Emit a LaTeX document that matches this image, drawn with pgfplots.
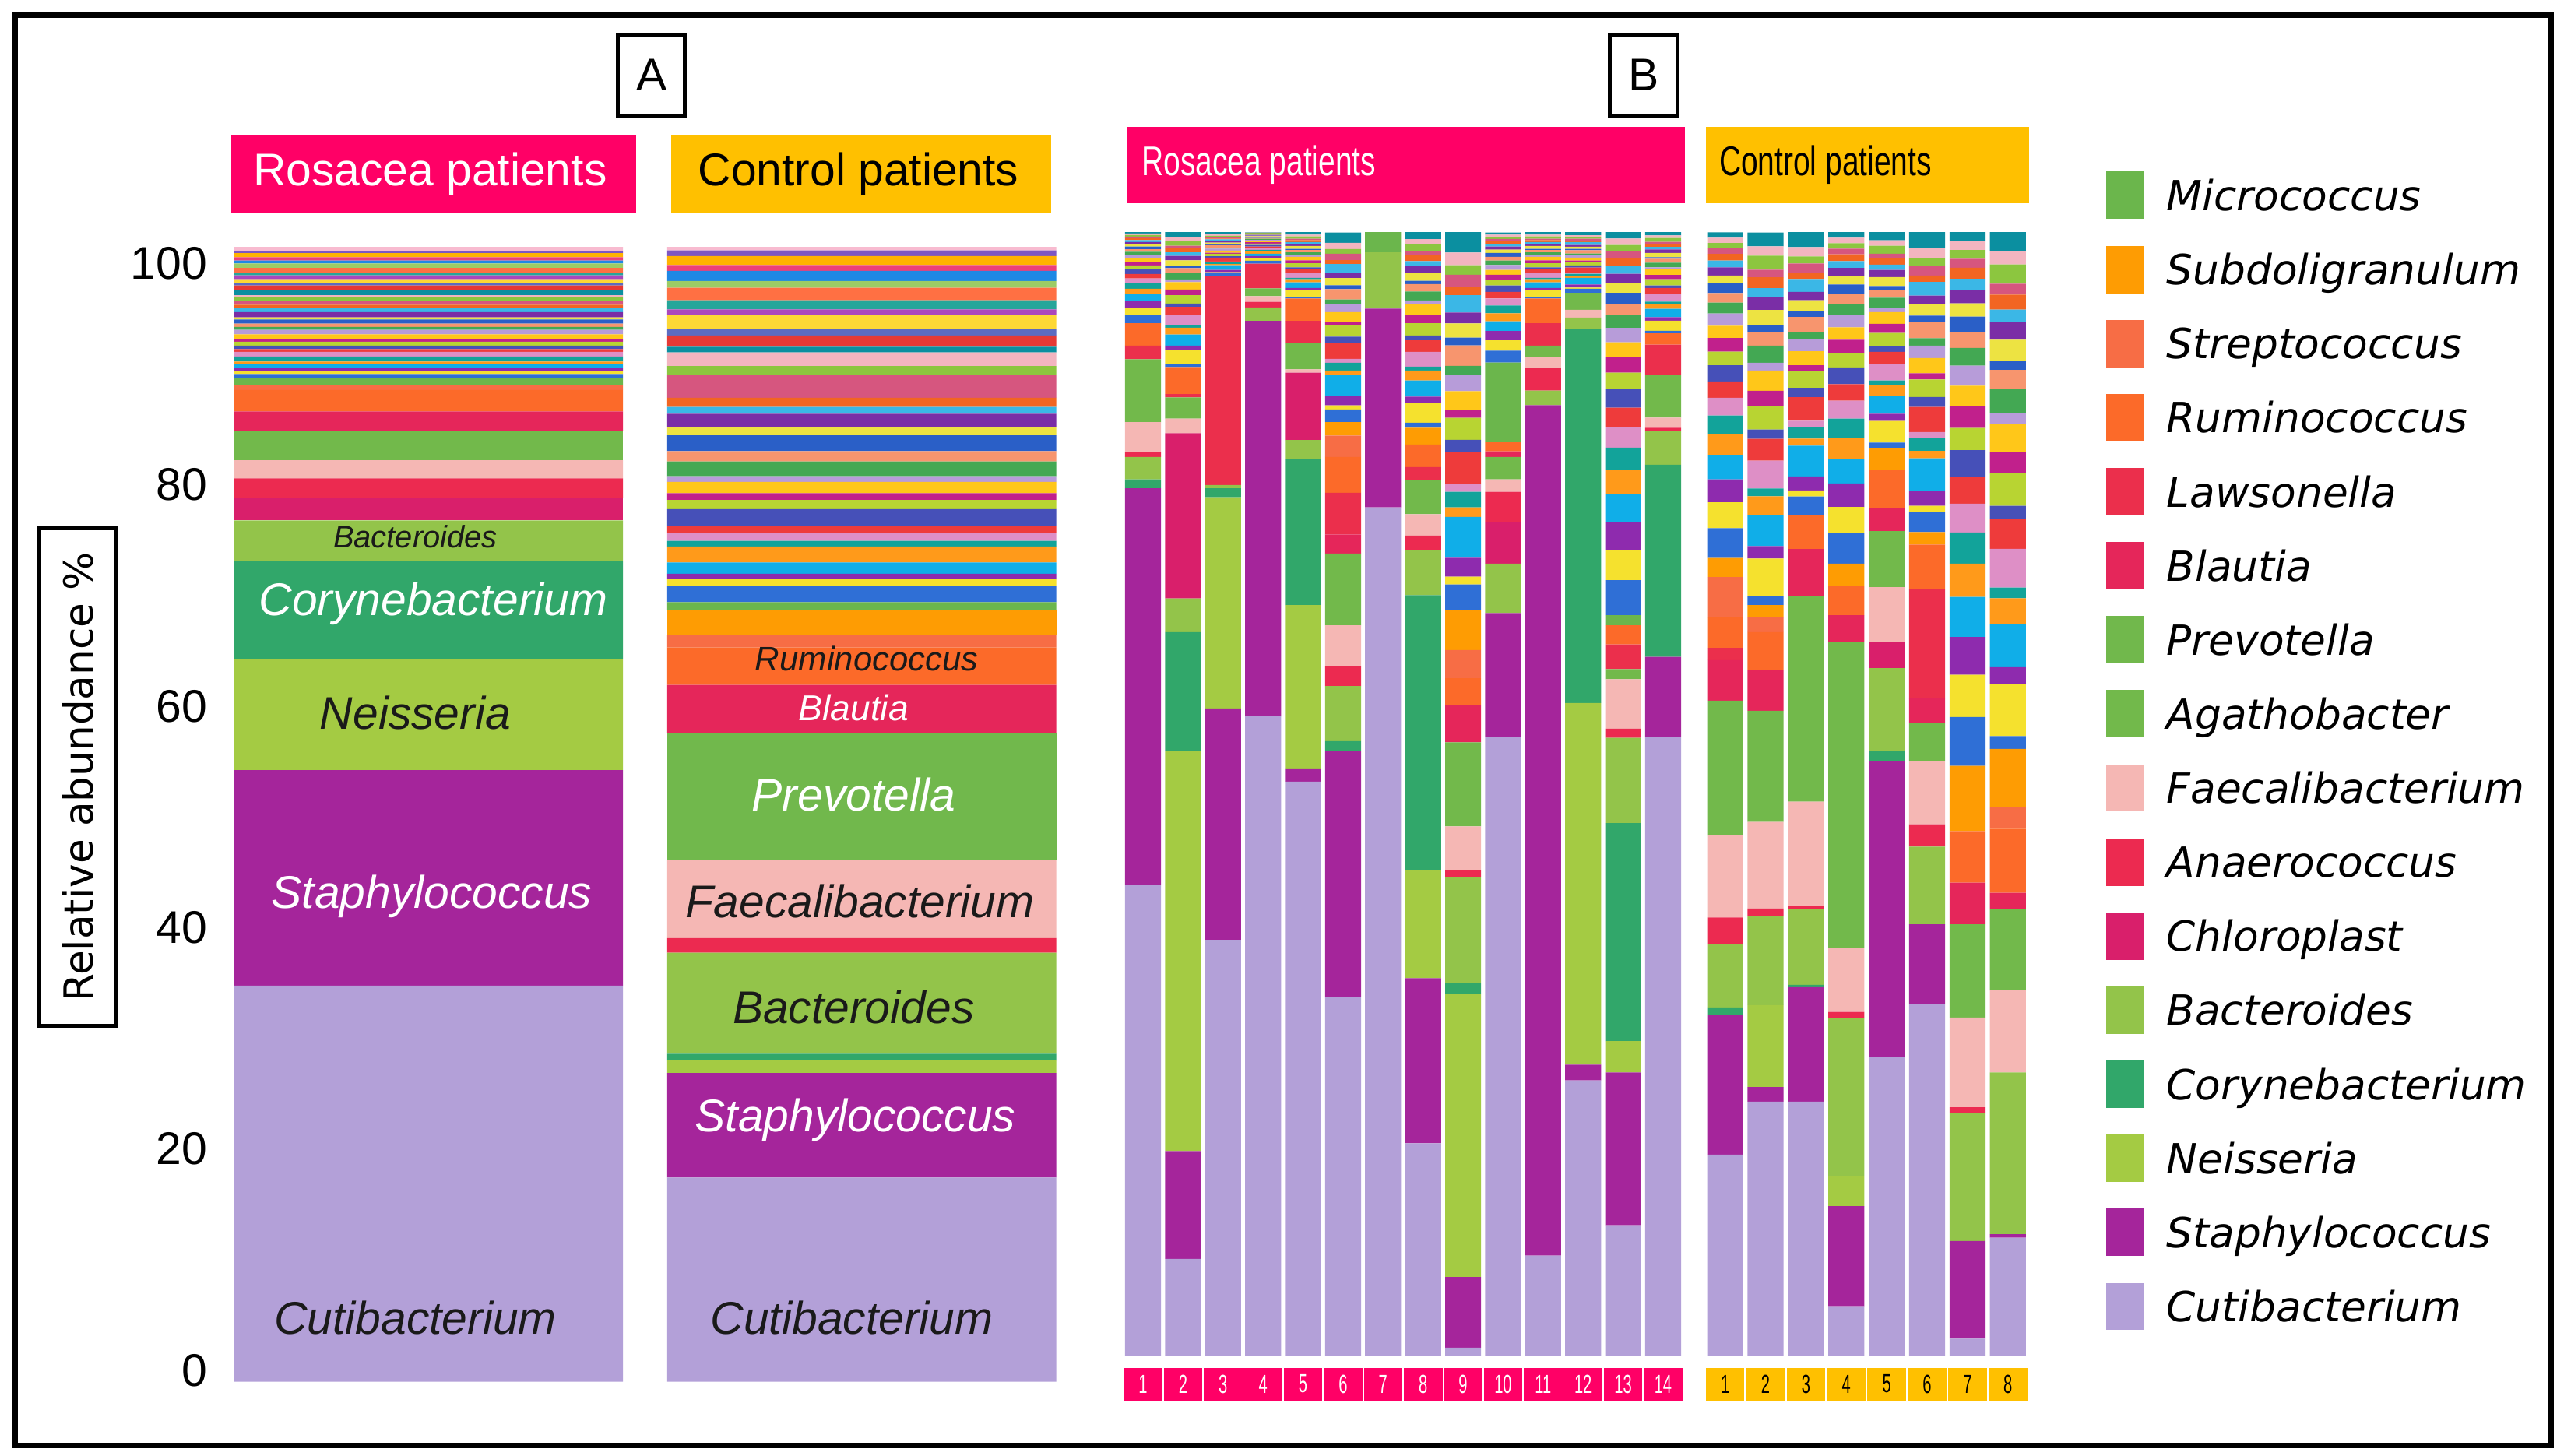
\documentclass[border=0pt]{standalone}
\usepackage{fontspec}
\setmainfont{Liberation Sans}
\newfontfamily\dejavu{DejaVu Sans}
\newfontfamily\narrowfont[FakeStretch=0.73]{Liberation Sans}
\newfontfamily\digitfont[FakeStretch=0.6]{Liberation Sans}
\usepackage{pgfplots}
\usepackage{pgfplotstable}
\pgfplotsset{compat=1.18}

% taxa colours
\definecolor{cCutibacterium}{HTML}{B3A0D8}
\definecolor{cStaphylococcus}{HTML}{A5259B}
\definecolor{cNeisseria}{HTML}{A4CB43}
\definecolor{cCorynebacterium}{HTML}{31A76A}
\definecolor{cBacteroides}{HTML}{93C44A}
\definecolor{cChloroplast}{HTML}{D91F6B}
\definecolor{cAnaerococcus}{HTML}{EC2A50}
\definecolor{cFaecalibacterium}{HTML}{F5B7B4}
\definecolor{cAgathobacter}{HTML}{72B94B}
\definecolor{cPrevotella}{HTML}{71B84C}
\definecolor{cBlautia}{HTML}{E5265A}
\definecolor{cLawsonella}{HTML}{EB2F4C}
\definecolor{cRuminococcus}{HTML}{FC6A29}
\definecolor{cStreptococcus}{HTML}{F76D45}
\definecolor{cSubdoligranulum}{HTML}{FE9C03}
\definecolor{cMicrococcus}{HTML}{6BB64C}
\definecolor{hpink}{HTML}{FF0066}
\definecolor{hyellow}{HTML}{FFC000}
\definecolor{dk}{HTML}{1A1A1A}
% colours of the minor taxa
\definecolor{st1}{HTML}{2F6FD6}
\definecolor{st2}{HTML}{F5E12E}
\definecolor{st3}{HTML}{8E2BAE}
\definecolor{st4}{HTML}{10AEE8}
\definecolor{st5}{HTML}{FF9A1A}
\definecolor{st6}{HTML}{12A39A}
\definecolor{st7}{HTML}{DE8FC6}
\definecolor{st8}{HTML}{EE3B3B}
\definecolor{st9}{HTML}{4650B8}
\definecolor{st10}{HTML}{B8D432}
\definecolor{st11}{HTML}{C1208C}
\definecolor{st12}{HTML}{FFC719}
\definecolor{st13}{HTML}{B79CD9}
\definecolor{st14}{HTML}{43A853}
\definecolor{st15}{HTML}{F7956E}
\definecolor{st16}{HTML}{2A5FC7}
\definecolor{st17}{HTML}{EDE342}
\definecolor{st18}{HTML}{7A2EA6}
\definecolor{st19}{HTML}{3BB7E6}
\definecolor{st20}{HTML}{F26522}
\definecolor{st21}{HTML}{D6567F}
\definecolor{st22}{HTML}{8CC63F}
\definecolor{st23}{HTML}{F3B5C0}
\definecolor{st24}{HTML}{0B8FA0}
\definecolor{st25}{HTML}{E53935}
\definecolor{st26}{HTML}{5C6BC0}
\definecolor{st27}{HTML}{FDD835}
\definecolor{st28}{HTML}{AB47BC}
\definecolor{st29}{HTML}{26A69A}
\definecolor{st30}{HTML}{FF7043}
\definecolor{st31}{HTML}{9CCC65}
\definecolor{st32}{HTML}{1E88E5}
\definecolor{st33}{HTML}{EC407A}
\definecolor{st34}{HTML}{FFB300}
\definecolor{st35}{HTML}{7E57C2}
\definecolor{st36}{HTML}{F8BBD0}

% panel A: pooled groups (x=0 rosacea, x=1 control)
\pgfplotstableread{
x Cutibacterium Staphylococcus Neisseria Corynebacterium Bacteroides Chloroplast Anaerococcus Faecalibacterium Agathobacter Prevotella Blautia Lawsonella Ruminococcus Streptococcus Subdoligranulum Micrococcus
0 34.9 19.0 9.8 8.6 3.6 2.0 1.7 1.6 2.6 0 1.7 0 1.9 0.4 0 0.6
1 18.0 9.2 1.1 0.6 8.9 0 1.3 6.9 0 11.2 4.2 0 3.3 1.1 2.2 0.7
}\tA
\pgfplotstableread{
x s1 s2 s3 s4 s5 s6 s7 s8 s9 s10 s11 s12 s13 s14 s15 s16 s17 s18 s19 s20 s21 s22 s23 s24 s25 s26 s27 s28 s29 s30 s31 s32 s33 s34 s35 s36
0 0.40 0.25 0.30 0.35 0.20 0.45 0.40 0.25 0.30 0.35 0.20 0.45 0.40 0.25 0.30 0.35 0.20 0.45 0.40 0.25 0.30 0.35 0.20 0.45 0.40 0.25 0.30 0.35 0.20 0.45 0.40 0.25 0.30 0.35 0.20 0.35
1 1.4 0.6 0.5 1.0 1.4 0.5 0.7 0.6 1.5 0.8 0.6 1.0 0.5 1.3 0.9 1.4 0.7 1.2 0.6 0.8 2.0 0.8 1.2 0.5 1.0 0.6 1.2 0.5 0.8 1.1 0.6 0.9 0.5 0.8 0.5 0.3
}\sA

% panel B: rosacea patients 1-14
\pgfplotstableread{
x Cutibacterium Staphylococcus Neisseria Corynebacterium Bacteroides Chloroplast Anaerococcus Faecalibacterium Agathobacter Prevotella Blautia Lawsonella Ruminococcus Streptococcus Subdoligranulum Micrococcus
1 41.9 35.3 0 0.8 2.0 0 0.4 2.7 5.6 0 0 1.2 2.0 0 0 0
2 8.6 9.6 35.6 10.6 3.0 14.7 0 1.3 1.9 0 0 0.3 2.4 0 0 0
3 37.0 20.6 18.8 0.8 0.3 0 0 0 0 0 0 18.6 0 0 0 0
4 56.9 35.2 0 0 1.2 0 0.5 0.5 0.7 0 0 2.2 0 0 0 0
5 51.1 1.1 14.6 13.0 1.7 6.0 0 0.3 2.3 0 0 2.0 2.0 0 0 0
6 31.9 21.9 0 0.9 4.9 0 1.8 3.6 6.4 0 1.7 3.7 3.2 1.9 1.2 0
7 75.5 17.7 0 0 5.0 0 0 0 0 0 0 0 0 0 0 1.8
8 18.9 14.7 9.6 24.5 4.0 0 1.3 1.9 3.0 0 0 1.2 2.0 0 1.5 0
9 0.7 6.3 25.2 1.0 9.4 0 0.6 3.9 7.5 0 3.3 0 2.4 2.5 3.6 0
10 55.1 11.0 0 0 4.4 3.7 2.7 1.1 2.0 0 0.5 0 0.8 0 0 7.1
11 8.9 75.7 0 0 1.3 0 2.0 1.0 1.0 0 0 2.0 2.2 0 0 0
12 24.5 1.4 32.2 33.3 1.0 0 0 0.7 1.5 0 0 0 0 0 0 0
13 11.6 13.6 2.8 19.4 7.6 0 0.8 4.4 0.9 0 0 2.2 1.7 0 0 0.9
14 55.1 7.1 0 17.1 3.0 0 0.3 0.9 3.8 0 0 2.7 1.0 0 0 0
}\tBr
\pgfplotstableread{
x s1 s2 s3 s4 s5 s6 s7 s8 s9 s10 s11 s12 s13 s14 s15 s16 s17 s18 s19 s20 s21 s22 s23 s24
1 0.74 0.64 0.57 0.61 0.51 0.47 0.44 0.41 0.41 0.34 0.34 0.30 0.30 0.27 0.24 0.24 0.20 0.20 0.17 0.17 0.14 0.14 0.14 0.14
2 0.30 1.20 0.40 1.00 0.60 0.25 0.90 0.70 0.30 0.75 0.50 0.65 0.25 0.55 0.45 0.20 0.50 0.40 0.30 0.35 0.25 0.45 0.30 0.45
3 0.26 0.08 0.20 0.42 0.10 0.16 0.08 0.33 0.13 0.23 0.08 0.20 0.16 0.10 0.21 0.08 0.15 0.11 0.18 0.08 0.13 0.10 0.13 0.21
4 0.26 0.22 0.20 0.21 0.18 0.16 0.15 0.14 0.14 0.12 0.12 0.11 0.11 0.09 0.08 0.08 0.07 0.07 0.06 0.06 0.05 0.05 0.05 0.05
5 0.15 0.59 0.20 0.49 0.29 0.12 0.44 0.34 0.15 0.37 0.25 0.32 0.12 0.27 0.22 0.10 0.25 0.20 0.15 0.17 0.12 0.22 0.15 0.22
6 1.13 0.35 0.85 1.83 0.42 0.70 0.35 1.41 0.56 0.99 0.35 0.85 0.70 0.42 0.92 0.35 0.63 0.49 0.77 0.35 0.56 0.42 0.56 0.92
7 0 0 0 0 0 0 0 0 0 0 0 0 0 0 0 0 0 0 0 0 0 0 0 0
8 0.44 1.74 0.58 1.45 0.87 0.36 1.31 1.02 0.44 1.09 0.73 0.94 0.36 0.80 0.65 0.29 0.73 0.58 0.44 0.51 0.36 0.65 0.44 0.65
9 2.24 0.70 1.68 3.64 0.84 1.40 0.70 2.80 1.12 1.96 0.70 1.68 1.40 0.84 1.82 0.70 1.26 0.98 1.54 0.70 1.12 0.84 1.12 1.82
10 1.06 0.92 0.82 0.87 0.72 0.68 0.63 0.58 0.58 0.48 0.48 0.43 0.43 0.39 0.34 0.34 0.29 0.29 0.24 0.24 0.19 0.19 0.19 0.19
11 0.15 0.59 0.20 0.49 0.29 0.12 0.44 0.34 0.15 0.37 0.25 0.32 0.12 0.27 0.22 0.10 0.25 0.20 0.15 0.17 0.12 0.22 0.15 0.22
12 0.36 0.11 0.27 0.59 0.14 0.23 0.11 0.45 0.18 0.32 0.11 0.27 0.23 0.14 0.29 0.11 0.20 0.16 0.25 0.11 0.18 0.14 0.18 0.29
13 3.13 2.70 2.42 2.56 2.13 1.99 1.85 1.70 1.70 1.42 1.42 1.28 1.28 1.14 0.99 0.99 0.85 0.85 0.71 0.71 0.57 0.57 0.57 0.57
14 0.23 0.90 0.30 0.75 0.45 0.19 0.68 0.53 0.23 0.56 0.38 0.49 0.19 0.41 0.34 0.15 0.38 0.30 0.23 0.26 0.19 0.34 0.23 0.34
}\sBr

% panel B: control patients 1-8
\pgfplotstableread{
x Cutibacterium Staphylococcus Neisseria Corynebacterium Bacteroides Chloroplast Anaerococcus Faecalibacterium Agathobacter Prevotella Blautia Lawsonella Ruminococcus Streptococcus Subdoligranulum Micrococcus
1 17.9 12.4 0 0.7 5.6 0 2.4 7.3 12.0 0 3.6 1.1 2.7 3.6 1.7 0
2 22.6 1.3 7.3 0 7.9 0 0.7 7.7 9.9 0 3.6 0 3.4 1.3 1.1 0
3 22.6 10.2 0 0.2 6.7 0 0.3 9.3 18.3 0 4.2 0 3.0 0 0 0
4 4.4 8.9 2.7 0 14.0 0 0.6 5.7 27.2 0 2.4 0 2.6 0 2.0 0
5 26.6 26.3 0 0.9 7.4 2.3 0 4.9 5.0 0 2.0 0 3.4 0 2.0 0
6 31.3 7.1 0 0 6.9 0 2.0 5.6 3.4 0 2.2 9.7 4.0 0 1.1 0
7 1.5 8.7 0 0 11.4 0 0.5 8.0 8.3 0 3.7 0 4.6 0 5.8 0
8 10.5 0.3 0 0 14.4 0 0 7.3 7.2 0 1.5 0 5.7 1.9 5.2 0
}\tBc
\pgfplotstableread{
x s1 s2 s3 s4 s5 s6 s7 s8 s9 s10 s11 s12 s13 s14 s15 s16 s17 s18 s19 s20 s21 s22 s23 s24
1 2.66 2.30 2.05 2.18 1.81 1.69 1.57 1.45 1.45 1.21 1.21 1.09 1.09 0.97 0.85 0.85 0.72 0.72 0.60 0.60 0.48 0.48 0.48 0.48
2 0.83 3.32 1.11 2.77 1.66 0.69 2.49 1.94 0.83 2.07 1.38 1.80 0.69 1.52 1.24 0.55 1.38 1.11 0.83 0.97 0.69 1.24 0.83 1.24
3 1.68 0.53 1.26 2.73 0.63 1.05 0.53 2.10 0.84 1.47 0.53 1.26 1.05 0.63 1.37 0.53 0.95 0.74 1.16 0.53 0.84 0.63 0.84 1.37
4 2.70 2.34 2.09 2.21 1.84 1.72 1.60 1.48 1.48 1.23 1.23 1.11 1.11 0.98 0.86 0.86 0.74 0.74 0.61 0.61 0.49 0.49 0.49 0.49
5 0.48 1.92 0.64 1.60 0.96 0.40 1.44 1.12 0.48 1.20 0.80 1.04 0.40 0.88 0.72 0.32 0.80 0.64 0.48 0.56 0.40 0.72 0.48 0.72
6 1.78 0.56 1.34 2.89 0.67 1.11 0.56 2.23 0.89 1.56 0.56 1.34 1.11 0.67 1.45 0.56 1.00 0.78 1.22 0.56 0.89 0.67 0.89 1.45
7 4.35 3.76 3.36 3.56 2.97 2.77 2.57 2.38 2.38 1.98 1.98 1.78 1.78 1.58 1.39 1.39 1.19 1.19 0.99 0.99 0.79 0.79 0.79 0.79
8 1.15 4.60 1.53 3.83 2.30 0.96 3.45 2.68 1.15 2.88 1.92 2.49 0.96 2.11 1.73 0.77 1.92 1.53 1.15 1.34 0.96 1.73 1.15 1.73
}\sBc

\pgfplotsset{
  stk/.style={
    ybar stacked, scale only axis, ymin=0, ymax=100,
    axis lines*=left, axis line style={draw=none},
    tick style={draw=none}, major tick length=0pt,
    enlargelimits=false,
    /pgf/number format/assume math mode=true,
  },
  rectleg/.style={legend image code/.code={\fill[##1] (0pt,-7.25pt) rectangle (11.5pt,7.25pt);}},
}
\tikzset{lab/.style={inner sep=0pt, font=\itshape\fontsize{14}{16}\selectfont}}

\begin{document}
\begin{tikzpicture}

% ---------- panel A ----------
\begin{axis}[stk, at={(71.375pt,-422.5pt)}, anchor=south west,
  width=251.75pt, height=347pt, xmin=-0.45, xmax=1.45, bar width=119pt,
  xtick=\empty,
  % the figure prints its tick numbers slightly inside the bar span
  ytick={1.01,20.52,40.03,59.54,79.05,98.56}, yticklabels={0,20,40,60,80,100},
  yticklabel style={font=\fontsize{14}{16}\selectfont, inner sep=0pt, xshift=-7.9pt}]
\pgfplotsinvokeforeach{Cutibacterium,Staphylococcus,Neisseria,Corynebacterium,Bacteroides,Chloroplast,Anaerococcus,Faecalibacterium,Agathobacter,Prevotella,Blautia,Lawsonella,Ruminococcus,Streptococcus,Subdoligranulum,Micrococcus}{
  \addplot[fill=c#1, draw=none] table[x=x, y=#1]{\tA};
}
\pgfplotsinvokeforeach{1,...,36}{
  \addplot[fill=st#1, draw=none, forget plot] table[x=x, y=s#1]{\sA};
}
\end{axis}

% ---------- panel B, rosacea ----------
\begin{axis}[stk, at={(343.4pt,-414.5pt)}, anchor=south west,
  width=171.25pt, height=343.5pt, xmin=0.5, xmax=14.5, bar width=11pt,
  ytick=\empty, xtick={1,...,14},
  xticklabel style={fill=hpink, text=white, font=\digitfont\fontsize{8}{9}\selectfont,
    minimum width=11.8pt, minimum height=10pt, inner sep=0pt, anchor=north, yshift=-3.5pt}]
\pgfplotsinvokeforeach{Cutibacterium,Staphylococcus,Neisseria,Corynebacterium,Bacteroides,Chloroplast,Anaerococcus,Faecalibacterium,Agathobacter,Prevotella,Blautia,Lawsonella,Ruminococcus,Streptococcus,Subdoligranulum,Micrococcus}{
  \addplot[fill=c#1, draw=none] table[x=x, y=#1]{\tBr};
}
\pgfplotsinvokeforeach{1,...,24}{
  \addplot[fill=st#1, draw=none, forget plot] table[x=x, y=s#1]{\sBr};
}
\end{axis}

% ---------- panel B, control ----------
\begin{axis}[stk, at={(521.325pt,-414.5pt)}, anchor=south west,
  width=98.8pt, height=343.5pt, xmin=0.5, xmax=8.5, bar width=11pt,
  ytick=\empty, xtick={1,...,8},
  xticklabel style={fill=hyellow, text=black, font=\digitfont\fontsize{8}{9}\selectfont,
    minimum width=11.8pt, minimum height=10pt, inner sep=0pt, anchor=north, yshift=-3.5pt},
  reverse legend, legend cell align=left,
  legend style={at={(1.2416,1.0539)}, anchor=north west, draw=none, fill=none,
    inner sep=0pt, outer sep=0pt, row sep=8.15pt,
    font={\dejavu\itshape\fontsize{12.7}{14}\selectfont},
    nodes={inner sep=0pt, text height=9.3pt, text depth=0pt},
    /tikz/every odd column/.append style={column sep=7pt}}]
\pgfplotsinvokeforeach{Cutibacterium,Staphylococcus,Neisseria,Corynebacterium,Bacteroides,Chloroplast,Anaerococcus,Faecalibacterium,Agathobacter,Prevotella,Blautia,Lawsonella,Ruminococcus,Streptococcus,Subdoligranulum,Micrococcus}{
  \addplot[fill=c#1, draw=none, rectleg] table[x=x, y=#1]{\tBc};
  \addlegendentry{#1}
}
\pgfplotsinvokeforeach{1,...,24}{
  \addplot[fill=st#1, draw=none, forget plot] table[x=x, y=s#1]{\sBc};
}
\end{axis}

% ---------- frame, headers, boxed labels, names on the panel A bars ----------
\begin{scope}[x=0.5pt, y=-0.5pt]
\path (0,0) rectangle (1568,890);
\draw[line width=1.8pt] (9,9) rectangle (1560,884);
\draw[line width=1.2pt] (378,21.4) rectangle (419,70.5);
\node[font=\fontsize{14}{16}\selectfont] at (398.5,46) {A};
\draw[line width=1.2pt] (984.4,21.4) rectangle (1025.8,70.5);
\node[font=\fontsize{14}{16}\selectfont] at (1005.1,46) {B};
\fill[hpink] (141.3,83) rectangle (389,130);
\node[text=white, inner sep=0pt, font=\fontsize{14}{16}\selectfont] at (263,106.5) {Rosacea patients};
\fill[hyellow] (410.5,83) rectangle (643,130);
\node[text=black, inner sep=0pt, font=\fontsize{14}{16}\selectfont] at (525,106.5) {Control patients};
\fill[hpink] (689.5,77.5) rectangle (1030.4,124.1);
\node[anchor=west, text=white, inner sep=0pt, font=\narrowfont\fontsize{12.7}{14}\selectfont] at (697.8,100.8) {Rosacea patients};
\fill[hyellow] (1043.3,77.5) rectangle (1241,124.1);
\node[anchor=west, text=black, inner sep=0pt, font=\narrowfont\fontsize{12.7}{14}\selectfont] at (1051,100.8) {Control patients};
\draw[line width=1.2pt] (24.2,323) rectangle (71.1,627.3);
\node[rotate=90, inner sep=0pt, font=\dejavu\fontsize{12.3}{14}\selectfont] at (47.6,475.1) {Relative abundance \%};

\node[lab, text=dk, font=\itshape\fontsize{9.5}{11}\selectfont] at (254,328) {Bacteroides};
\node[lab, text=white] at (265,369) {Corynebacterium};
\node[lab, text=dk] at (254,436) {Neisseria};
\node[lab, text=white] at (264,548) {Staphylococcus};
\node[lab, text=dk] at (254,806) {Cutibacterium};
\node[lab, text=dk, font=\itshape\fontsize{10.4}{12}\selectfont] at (530,403) {Ruminococcus};
\node[lab, text=white, font=\itshape\fontsize{11}{13}\selectfont] at (522,433) {Blautia};
\node[lab, text=white] at (522,486) {Prevotella};
\node[lab, text=dk] at (526,551) {Faecalibacterium};
\node[lab, text=dk] at (522,616) {Bacteroides};
\node[lab, text=white] at (523,685) {Staphylococcus};
\node[lab, text=dk] at (521,806) {Cutibacterium};
\end{scope}
\end{tikzpicture}
\end{document}
